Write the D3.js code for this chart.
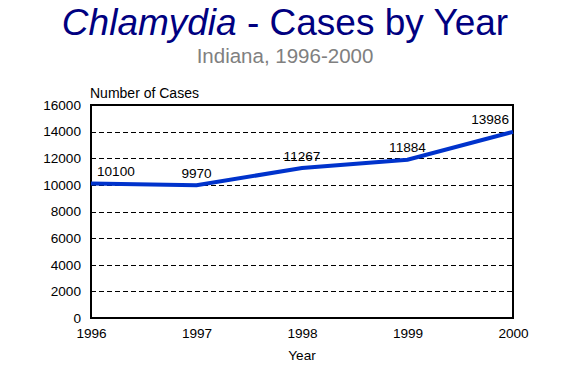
<!DOCTYPE html>
<html><head><meta charset="utf-8">
<script src="https://cdn.jsdelivr.net/npm/d3@7"></script>
<style>body{margin:0;background:#fff}svg{display:block;font-family:"Liberation Sans",Arial,sans-serif}</style>
</head><body>
<svg id="c" width="568" height="367"></svg>
<script>
const years = [1996, 1997, 1998, 1999, 2000];
const cases = [10100, 9970, 11267, 11884, 13986];
const yTicks = [0, 2000, 4000, 6000, 8000, 10000, 12000, 14000, 16000];

const svg = d3.select("#c");
const L = 91, R = 513, T = 105, B = 318;
const FS = 13.6;
const x = d3.scaleLinear().domain([1996, 2000]).range([L, R]);
const y = d3.scaleLinear().domain([0, 16000]).range([B, T]);

// title
const title = svg.append("text").attr("x", 285).attr("y", 35).attr("text-anchor", "middle")
  .attr("fill", "#000080").attr("font-size", 37);
title.append("tspan").attr("font-style", "italic").text("Chlamydia");
title.append("tspan").text(" - Cases by Year");
svg.append("text").attr("x", 285).attr("y", 63).attr("text-anchor", "middle")
  .attr("fill", "#808080").attr("font-size", 20.5).text("Indiana, 1996-2000");

// gridlines
svg.append("g").selectAll("line").data(yTicks.filter(d => d > 0 && d < 16000)).join("line")
  .attr("x1", L).attr("x2", R).attr("y1", d => Math.round(y(d)) + 0.5).attr("y2", d => Math.round(y(d)) + 0.5)
  .attr("stroke", "#000").attr("stroke-width", 1).attr("stroke-dasharray", "5,3");

// frame
svg.append("rect").attr("x", L).attr("y", T).attr("width", R - L).attr("height", B - T)
  .attr("fill", "none").attr("stroke", "#000").attr("stroke-width", 2);

// y axis labels
const yAxis = d3.axisLeft(y).tickValues(yTicks).tickSize(0).tickPadding(10).tickFormat(d3.format("d"));
const gy = svg.append("g").attr("transform", `translate(${L},0)`).call(yAxis);
gy.select(".domain").remove();
gy.selectAll("text").attr("font-size", FS).attr("fill", "#000").attr("font-family", "Liberation Sans, Arial, sans-serif");

// x axis labels
const xAxis = d3.axisBottom(x).tickValues(years).tickSize(0).tickPadding(10).tickFormat(d3.format("d"));
const gx = svg.append("g").attr("transform", `translate(0,${B})`).call(xAxis);
gx.select(".domain").remove();
gx.selectAll("text").attr("font-size", FS).attr("fill", "#000").attr("font-family", "Liberation Sans, Arial, sans-serif");

// axis titles
svg.append("text").attr("x", 90).attr("y", 98).attr("font-size", FS + 0.4).text("Number of Cases");
svg.append("text").attr("x", 302).attr("y", 360).attr("text-anchor", "middle").attr("font-size", FS).text("Year");

// line
const data = years.map((yr, i) => ({yr, v: cases[i]}));
svg.append("path").datum(data)
  .attr("d", d3.line().x(d => x(d.yr)).y(d => y(d.v)))
  .attr("fill", "none").attr("stroke", "#0033cc").attr("stroke-width", 4);

// labels
svg.append("g").selectAll("text").data(data).join("text")
  .attr("x", (d, i) => i === 0 ? x(d.yr) + 6 : i === data.length - 1 ? x(d.yr) - 4 : x(d.yr))
  .attr("y", d => y(d.v) - 7.5)
  .attr("text-anchor", (d, i) => i === 0 ? "start" : i === data.length - 1 ? "end" : "middle")
  .attr("font-size", FS).text(d => d.v);
</script>
</body></html>
